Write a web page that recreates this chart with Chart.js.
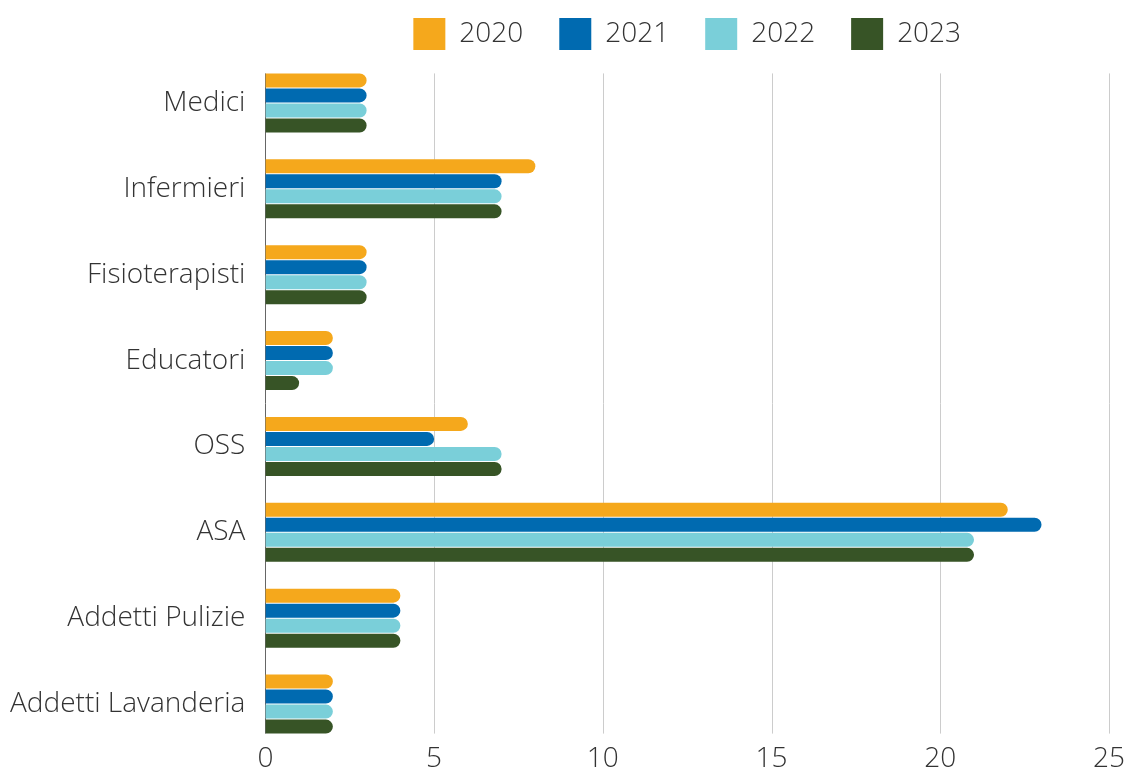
<!DOCTYPE html>
<html>
<head>
<meta charset="utf-8">
<script src="https://cdn.jsdelivr.net/npm/chart.js@4/dist/chart.umd.min.js"></script>
<style>
  html, body { margin: 0; padding: 0; background: #ffffff; }
  #wrap { width: 1130px; height: 771px; position: relative; }
</style>
</head>
<body>
<div id="wrap"><canvas id="c"></canvas></div>
<script>
const categories = ["Medici", "Infermieri", "Fisioterapisti", "Educatori", "OSS", "ASA", "Addetti Pulizie", "Addetti Lavanderia"];
const seriesNames = ["2020", "2021", "2022", "2023"];
const values2020 = [3, 8, 3, 2, 6, 22, 4, 2];
const values2021 = [3, 7, 3, 2, 5, 23, 4, 2];
const values2022 = [3, 7, 3, 2, 7, 21, 4, 2];
const values2023 = [3, 7, 3, 1, 7, 21, 4, 2];
const xTicks = [0, 5, 10, 15, 20, 25];
const colors = ["#F5A81C", "#006AB0", "#7ACFD9", "#375426"];

const allValues = [values2020, values2021, values2022, values2023];
const FONT = "'Open Sans', 'DejaVu Sans', sans-serif";

// Draws grid lines and the value-zero axis line only over the extent of the bars
const barExtentGrid = {
  id: 'barExtentGrid',
  beforeDatasetsDraw(chart) {
    const ctx = chart.ctx;
    const xs = chart.scales.x;
    const first = chart.getDatasetMeta(0).data[0];
    const lastMeta = chart.getDatasetMeta(chart.data.datasets.length - 1);
    const last = lastMeta.data[lastMeta.data.length - 1];
    if (!first || !last) return;
    const top = first.y - first.height / 2;
    const bottom = last.y + last.height / 2;
    ctx.save();
    xs.ticks.forEach(t => {
      const px = Math.round(xs.getPixelForValue(t.value)) + 0.5;
      ctx.beginPath();
      ctx.strokeStyle = t.value === 0 ? '#666666' : '#cccccc';
      ctx.lineWidth = 1;
      ctx.moveTo(px, top);
      ctx.lineTo(px, bottom);
      ctx.stroke();
    });
    ctx.restore();
  }
};

new Chart(document.getElementById('c'), {
  type: 'bar',
  data: {
    labels: categories,
    datasets: seriesNames.map((name, i) => ({
      label: name,
      data: allValues[i],
      backgroundColor: colors[i],
      borderRadius: 7,
      borderSkipped: 'start',
      categoryPercentage: 0.70,
      barPercentage: 0.93
    }))
  },
  plugins: [barExtentGrid],
  options: {
    indexAxis: 'y',
    responsive: true,
    maintainAspectRatio: false,
    animation: false,
    layout: { padding: { top: -18, right: 19, bottom: 0, left: -10 } },
    plugins: {
      tooltip: { enabled: false },
      legend: {
        position: 'top',
        fullSize: false,
        labels: {
          boxWidth: 32,
          boxHeight: 32,
          padding: 36,
          color: '#333333',
          font: { family: FONT, size: 28, weight: 300 }
        }
      }
    },
    scales: {
      x: {
        min: 0,
        max: 25,
        afterBuildTicks: (axis) => { axis.ticks = xTicks.map(v => ({ value: v })); },
        grid: { display: false, drawTicks: false },
        border: { display: false },
        ticks: {
          color: '#333333',
          padding: 5,
          font: { family: FONT, size: 28, weight: 300, lineHeight: 0.5 }
        }
      },
      y: {
        grid: { display: false, drawTicks: false },
        border: { display: false },
        ticks: {
          color: '#333333',
          padding: 20,
          font: { family: FONT, size: 28, weight: 300, lineHeight: 0.05 }
        }
      }
    }
  }
});
</script>
</body>
</html>
